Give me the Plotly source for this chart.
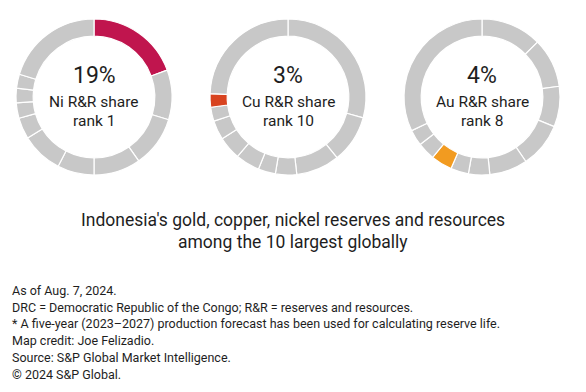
import plotly.graph_objects as go

# Shares (%) of the 10 largest holders (by rank, clockwise from top) + rest of world
ni_shares = [19.4, 10.3, 10.6, 9.7, 7.6, 8.6, 4.4, 3.2, 3.0, 2.9, 20.3]
cu_shares = [29.3, 9.9, 9.0, 4.4, 3.6, 5.0, 4.8, 4.0, 2.9, 2.8, 24.3]
au_shares = [12.6, 10.2, 8.4, 9.3, 7.9, 4.4, 3.7, 4.4, 3.7, 3.3, 32.1]
labels = ["Rank 1", "Rank 2", "Rank 3", "Rank 4", "Rank 5", "Rank 6",
          "Rank 7", "Rank 8", "Rank 9", "Rank 10", "Rest of world"]

metals = ["Ni", "Cu", "Au"]
indonesia_rank = [1, 10, 8]
indonesia_share = ["19%", "3%", "4%"]
highlight_colors = ["#C0154E", "#D8431F", "#F29B20"]

title_lines = ["Indonesia's gold, copper, nickel reserves and resources",
               "among the 10 largest globally"]
notes = ["As of Aug. 7, 2024.",
         "DRC = Democratic Republic of the Congo; R&R = reserves and resources.",
         "* A five-year (2023\u20132027) production forecast has been used for calculating reserve life.",
         "Map credit: Joe Felizadio.",
         "Source: S&P Global Market Intelligence.",
         "\u00a9 2024 S&P Global."]

W, H = 586, 392
GRAY = "#C8C8C8"
FONT = "Roboto"
TXT = "#1E1E1E"

fig = go.Figure()
centers_x = [94, 288, 482]
cy = 97
R = 78
all_shares = [ni_shares, cu_shares, au_shares]


def ann(x, y, text, size, xanchor="center"):
    fig.add_annotation(x=x / W, y=1 - y / H, xref="paper", yref="paper",
                       text=text, showarrow=False, xanchor=xanchor,
                       yanchor="middle",
                       font=dict(family=FONT, size=size, color=TXT))


for i, shares in enumerate(all_shares):
    cx = centers_x[i]
    colors = [GRAY] * len(shares)
    colors[indonesia_rank[i] - 1] = highlight_colors[i]
    fig.add_trace(go.Pie(
        values=shares, labels=labels, sort=False, direction="clockwise",
        rotation=0, hole=0.78, textinfo="none", hoverinfo="label+value",
        marker=dict(colors=colors, line=dict(color="white", width=1.2)),
        domain=dict(x=[(cx - R) / W, (cx + R) / W],
                    y=[1 - (cy + R) / H, 1 - (cy - R) / H]),
        showlegend=False,
    ))
    ann(cx, 75, indonesia_share[i], 23)
    ann(cx, 102, f"{metals[i]} R&R share", 15.5)
    ann(cx, 121, f"rank {indonesia_rank[i]}", 15.5)

for j, line in enumerate(title_lines):
    ann(W / 2, 220 + 21.5 * j, line, 17.5)

for j, line in enumerate(notes):
    ann(10, 290.5 + 16.7 * j, line, 12.5, xanchor="left")

fig.update_layout(width=W, height=H, margin=dict(l=0, r=0, t=0, b=0),
                  paper_bgcolor="white", plot_bgcolor="white")
fig.write_html("out.html", config={"displayModeBar": False},
               post_script="document.body.style.margin='0';")
